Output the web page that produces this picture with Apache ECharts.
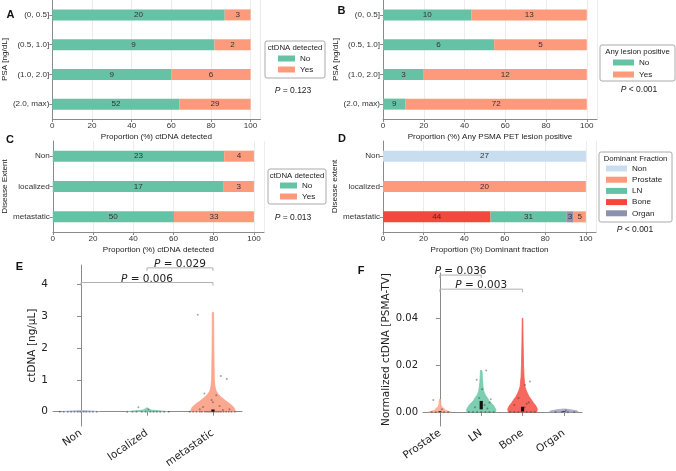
<!DOCTYPE html>
<html><head><meta charset="utf-8">
<script src="https://cdn.jsdelivr.net/npm/echarts@6/dist/echarts.min.js"></script>
<style>html,body{margin:0;padding:0;background:#fff}#c{width:676px;height:471px}</style>
</head><body><div id="c"></div>
<script>
// ---------- data ----------
const psaCats = ['(0, 0.5]', '(0.5, 1.0]', '(1.0, 2.0]', '(2.0, max)'];
const extentCats = ['Non', 'localized', 'metastatic'];
const aNo = [20, 9, 9, 52];
const aYes = [3, 2, 6, 29];
const bNo = [10, 6, 3, 9];
const bYes = [13, 5, 12, 72];
const cNo = [23, 17, 50];
const cYes = [4, 3, 33];
const dNon = [27, 0, 0];
const dBone = [0, 0, 44];
const dLN = [0, 0, 31];
const dOrgan = [0, 0, 3];
const dProstate = [0, 20, 5];

const eCats = ['Non', 'localized', 'metastatic'];
const eTicks = [0, 1, 2, 3, 4];
// violin profiles: [value, relative half width]
const eProfNon = [[0, 1], [0.02, 0.6], [0.04, 0]];
const eProfLoc = [[0, 1], [0.02, 0.7], [0.05, 0.2], [0.1, 0.05], [0.13, 0]];
const eProfMet = [[0, 0.97], [0.05, 1], [0.15, 0.93], [0.25, 0.76], [0.35, 0.56], [0.45, 0.38], [0.55, 0.24], [0.65, 0.14], [0.8, 0.09], [1.0, 0.06], [1.5, 0.05], [2.0, 0.04], [2.5, 0.035], [3.12, 0.03]];
const eBoxes = [[0, 0, 0], [0, 0, 0], [0, 0.07, 0.01]];
const ePtsNon = [[-0.32, 0], [-0.26, 0], [-0.2, 0], [-0.15, 0], [-0.1, 0], [-0.05, 0], [-0.01, 0], [0.04, 0], [0.08, 0], [0.13, 0], [0.18, 0], [0.24, 0]];
const ePtsLoc = [[-0.3, 0], [-0.22, 0], [-0.16, 0], [-0.13, 0.14], [-0.08, 0], [-0.02, 0], [0.02, 0.07], [0.05, 0], [0.1, 0], [0.15, 0], [0.2, 0], [0.26, 0], [0.33, 0]];
const ePtsMet = [[-0.23, 3.05], [0.12, 1.12], [0.21, 1.03], [-0.13, 0.57], [0.05, 0.52], [-0.02, 0.37], [0.0, 0.3], [-0.15, 0.15], [0.1, 0.18], [-0.2, 0.08], [0.25, 0.08], [0.15, 0.05],
  [-0.35, 0], [-0.3, 0], [-0.25, 0], [-0.2, 0], [-0.17, 0], [-0.12, 0], [-0.09, 0], [-0.06, 0], [-0.03, 0], [0, 0], [0.03, 0], [0.06, 0], [0.09, 0], [0.12, 0], [0.16, 0], [0.2, 0], [0.24, 0], [0.28, 0], [0.33, 0]];
const eBrackets = [[0, 2, 4.06, '0.006'], [1, 2, 4.52, '0.029']];

const fCats = ['Prostate', 'LN', 'Bone', 'Organ'];
const fTicks = [0, 0.02, 0.04];
const fProfProstate = [[0, 1], [0.0004, 0.7], [0.0008, 0.45], [0.0012, 0.4], [0.0016, 0.35], [0.002, 0.2], [0.003, 0.1], [0.004, 0.08], [0.0054, 0.05]];
const fProfLN = [[0, 0.95], [0.0008, 1], [0.002, 0.9], [0.003, 0.8], [0.004, 0.65], [0.005, 0.5], [0.006, 0.42], [0.007, 0.3], [0.008, 0.22], [0.009, 0.17], [0.011, 0.12], [0.014, 0.08], [0.0177, 0.05]];
const fProfBone = [[0, 0.95], [0.001, 1], [0.002, 0.95], [0.003, 0.85], [0.004, 0.72], [0.005, 0.62], [0.0065, 0.45], [0.008, 0.33], [0.0095, 0.23], [0.011, 0.16], [0.015, 0.1], [0.02, 0.07], [0.03, 0.04], [0.04, 0.02]];
const fProfOrgan = [[0, 1], [0.0005, 0.9], [0.001, 0.4], [0.0013, 0]];
const fBoxes = [[0, 0.0003, 0], [0.0011, 0.0047, 0.0025], [0.0002, 0.0022, 0.0008], [0, 0.0003, 0]];
const fPtsProstate = [[-0.16, 0.0051], [-0.2, 0], [-0.1, 0], [0, 0], [0.05, 0.0012], [0.1, 0], [0.2, 0]];
const fPtsLN = [[-0.11, 0.0137], [0.12, 0.0177], [0.02, 0.0097], [0.23, 0.0054], [0.2, 0.004], [-0.05, 0.006], [0.08, 0.003], [-0.15, 0.002], [0.15, 0.0015], [-0.3, 0], [-0.2, 0], [-0.1, 0], [0, 0], [0.1, 0], [0.2, 0], [0.3, 0]];
const fPtsBone = [[0.18, 0.013], [0.06, 0.0115], [-0.1, 0.006], [0.15, 0.004], [-0.2, 0.003], [0.05, 0.002], [0.1, 0.0035], [-0.3, 0], [-0.2, 0], [-0.1, 0], [0, 0], [0.1, 0], [0.2, 0], [0.3, 0]];
const fPtsOrgan = [[-0.2, 0], [-0.05, 0], [0.05, 0.0007], [0.1, 0], [0.25, 0]];
const fBrackets = [[0, 1, 0.0584, '0.036'], [0, 2, 0.0524, '0.003']];

// ---------- style ----------
const TEAL = '#66c2a5', SALMON = '#fc9a7b', BONE = '#f4473e', ORGAN = '#8c91ae', NONC = '#c9ddf0';
const AX = '#8a8a8a';
const SANS = 'Liberation Sans, Arial, sans-serif';
const DJ = 'DejaVu Sans, sans-serif';
const FS = 8.1;

const chart = echarts.init(document.getElementById('c'), null, { renderer: 'canvas' });

function pct(arrs) {
  return arrs.map(a => a.map((v, i) => {
    let t = 0; arrs.forEach(b => t += b[i]);
    return { value: v / t * 100, count: v };
  }));
}
const lab = { show: true, position: 'inside', fontSize: FS, color: '#333', fontFamily: SANS, formatter: p => p.data.count ? p.data.count : '' };

function barX(g, name) {
  return {
    gridIndex: g, type: 'value', min: 0, max: 105, interval: 20,
    axisLine: { show: true, lineStyle: { color: AX } },
    axisTick: { show: true, length: 3, lineStyle: { color: AX } },
    axisLabel: { fontSize: FS, color: '#333', margin: 3, fontFamily: SANS, showMaxLabel: false, formatter: v => v > 100 ? '' : v },
    splitLine: { show: true, lineStyle: { color: '#ececec' } },
    name: name, nameLocation: 'middle', nameGap: 14, nameTextStyle: { fontSize: FS, color: '#222', fontFamily: SANS }
  };
}
function barY(g, cats, name, gap) {
  return {
    gridIndex: g, type: 'category', data: cats, inverse: true,
    axisLine: { show: true, lineStyle: { color: AX } },
    axisTick: { show: true, length: 3, alignWithLabel: true, lineStyle: { color: AX } },
    axisLabel: { fontSize: FS, color: '#333', margin: 3, fontFamily: SANS },
    splitLine: { show: false },
    name: name, nameLocation: 'middle', nameGap: gap, nameRotate: 90, nameTextStyle: { fontSize: FS, color: '#222', fontFamily: SANS }
  };
}
function barS(name, g, data, color) {
  return { type: 'bar', name: name, xAxisIndex: g, yAxisIndex: g, stack: 's' + g, barWidth: 11, data: data, itemStyle: { color: color }, label: lab, emphasis: { disabled: true } };
}

const A = pct([aNo, aYes]), B = pct([bNo, bYes]), C = pct([cNo, cYes]);
const D = pct([dNon, dBone, dLN, dOrgan, dProstate]);

function violinRender(profiles, halfW, colors, boxes) {
  return function (params, api) {
    const i = api.value(0);
    const prof = profiles[i], H = halfW[i];
    const left = prof.map(p => api.coord([i - p[1] * H, p[0]]));
    const right = prof.slice().reverse().map(p => api.coord([i + p[1] * H, p[0]]));
    const children = [{ type: 'polygon', shape: { points: left.concat(right) }, style: { fill: colors[i], stroke: colors[i], lineWidth: 0.8, opacity: 0.9 } }];
    const b = boxes[i];
    const c1 = api.coord([i, b[0]]), c3 = api.coord([i, b[1]]);
    if (c1[1] - c3[1] > 0.5) {
      children.push({ type: 'rect', shape: { x: c1[0] - 1.6, y: c3[1], width: 3.2, height: c1[1] - c3[1] }, style: { fill: '#111' } });
    }
    return { type: 'group', children: children };
  };
}
function bracketRender(list) {
  return function (params, api) {
    const b = list[params.dataIndex];
    const p1 = api.coord([b[0], b[2]]), p2 = api.coord([b[1], b[2]]);
    return {
      type: 'group', children: [
        { type: 'polyline', shape: { points: [[p1[0], p1[1] + 3], p1, p2, [p2[0], p2[1] + 3]] }, style: { stroke: '#b0b0b0', lineWidth: 1, fill: null } },
        { type: 'text', x: (p1[0] + p2[0]) / 2, y: p1[1] + 2, style: { text: '{i|P} = ' + b[3], rich: { i: { fontStyle: 'italic', fontSize: 10.5, fontFamily: DJ, fill: '#222' } }, fontSize: 10.5, fontFamily: DJ, fill: '#222', align: 'center', verticalAlign: 'bottom' } }
      ]
    };
  };
}
function pts(list, idx) { return list.map(p => [idx + p[0], p[1]]); }

const ptStyle = { color: 'rgba(50,50,50,0.55)' };
function pText(x, y, t) {
  return { type: 'text', x: x, y: y, style: { text: t, rich: { i: { fontStyle: 'italic', fontSize: 8.5, fontFamily: SANS, fill: '#222' } }, fontSize: 8.5, fontFamily: SANS, fill: '#222', align: 'center', verticalAlign: 'middle' } };
}
function letter(x, y, t) {
  return { type: 'text', x: x, y: y, style: { text: t, fontSize: 11, fontWeight: 'bold', fontFamily: SANS, fill: '#111', align: 'center', verticalAlign: 'middle' } };
}
function legBox(x, y, w, h, title) {
  return [
    { type: 'rect', shape: { x: x, y: y, width: w, height: h, r: 2 }, style: { fill: '#fff', stroke: '#aaa', lineWidth: 1 }, z: -1 },
    { type: 'text', x: x + w / 2, y: y + 6.5, style: { text: title, fontSize: 7.8, fontFamily: SANS, fill: '#222', align: 'center', verticalAlign: 'middle' } }
  ];
}
const legText = { fontSize: FS, lineHeight: 9, color: '#222', fontFamily: SANS };

const option = {
  animation: false,
  backgroundColor: '#fff',
  grid: [
    { left: 50, top: 0, width: 210.5, height: 119 },
    { left: 383, top: 0, width: 214, height: 119 },
    { left: 50, top: 141, width: 214, height: 91 },
    { left: 383, top: 141, width: 213, height: 91 },
    { left: 53, top: 265, width: 189, height: 161 },
    { left: 423, top: 273, width: 159, height: 153 }
  ],
  xAxis: [
    barX(0, 'Proportion (%) ctDNA detected'),
    barX(1, 'Proportion (%) Any PSMA PET lesion positive'),
    barX(2, 'Proportion (%) ctDNA detected'),
    barX(3, 'Proportion (%) Dominant fraction'),
    {
      gridIndex: 4, type: 'value', min: -0.424, max: 2.44,
      axisLine: { show: true, lineStyle: { color: AX } },
      axisTick: { show: true, length: 4, customValues: [0, 1, 2], lineStyle: { color: AX } },
      axisLabel: { customValues: [0, 1, 2], formatter: v => eCats[Math.round(v)], rotate: 35, fontSize: 10.5, color: '#222', fontFamily: DJ, margin: 6 },
      splitLine: { show: false }
    },
    {
      gridIndex: 5, type: 'value', min: -0.41, max: 3.44,
      axisLine: { show: true, lineStyle: { color: AX } },
      axisTick: { show: true, length: 4, customValues: [0, 1, 2, 3], lineStyle: { color: AX } },
      axisLabel: { customValues: [0, 1, 2, 3], formatter: v => fCats[Math.round(v)], rotate: 35, fontSize: 10.5, color: '#222', fontFamily: DJ, margin: 6 },
      splitLine: { show: false }
    }
  ],
  yAxis: [
    barY(0, psaCats, 'PSA [ng/dL]', 38),
    barY(1, psaCats, 'PSA [ng/dL]', 37),
    barY(2, extentCats, 'Disease Extent', 38),
    barY(3, extentCats, 'Disease extent', 39),
    {
      gridIndex: 4, type: 'value', min: -0.45, max: 4.61,
      axisLine: { show: true, lineStyle: { color: AX } },
      axisTick: { show: true, length: 4, customValues: eTicks, lineStyle: { color: AX } },
      axisLabel: { customValues: eTicks, fontSize: 10.5, color: '#222', fontFamily: DJ, margin: 5 },
      splitLine: { show: false },
      name: 'ctDNA [ng/μL]', nameLocation: 'middle', nameGap: 15, nameRotate: 90, nameTextStyle: { fontSize: 10.5, color: '#222', fontFamily: DJ }
    },
    {
      gridIndex: 5, type: 'value', min: -0.006, max: 0.0593,
      axisLine: { show: true, lineStyle: { color: AX } },
      axisTick: { show: true, length: 4, customValues: fTicks, lineStyle: { color: AX } },
      axisLabel: { customValues: fTicks, formatter: v => v.toFixed(2), fontSize: 10, color: '#222', fontFamily: DJ, margin: 5 },
      splitLine: { show: false },
      name: 'Normalized ctDNA [PSMA-TV]', nameLocation: 'middle', nameGap: 29, nameRotate: 90, nameTextStyle: { fontSize: 10.5, color: '#222', fontFamily: DJ }
    }
  ],
  legend: [
    { data: ['No', 'Yes'], left: 278, top: 54, orient: 'vertical', itemWidth: 17, itemHeight: 6, itemGap: 2, icon: 'rect', selectedMode: false, padding: 0, textStyle: legText },
    { data: ['No', 'Yes'], left: 613, top: 58, orient: 'vertical', itemWidth: 21, itemHeight: 6, itemGap: 3, icon: 'rect', selectedMode: false, padding: 0, textStyle: legText },
    { data: ['No', 'Yes'], left: 280, top: 181, orient: 'vertical', itemWidth: 17, itemHeight: 6, itemGap: 2, icon: 'rect', selectedMode: false, padding: 0, textStyle: legText },
    { data: ['Non', 'Prostate', 'LN', 'Bone', 'Organ'], left: 606, top: 164, orient: 'vertical', itemWidth: 21, itemHeight: 6, itemGap: 2.2, icon: 'rect', selectedMode: false, padding: 0, textStyle: legText }
  ],
  graphic: [].concat(
    legBox(265, 41, 60, 37, 'ctDNA detected'),
    legBox(600, 45, 75, 36, 'Any lesion positive'),
    legBox(268, 169, 58, 35, 'ctDNA detected'),
    legBox(599, 152, 73, 70, 'Dominant Fraction'),
    [
      pText(293, 91, '{i|P} = 0.123'),
      pText(639, 90, '{i|P} < 0.001'),
      pText(293, 218, '{i|P} = 0.013'),
      pText(635, 230, '{i|P} < 0.001'),
      letter(10.5, 15, 'A'), letter(341.5, 11, 'B'), letter(10, 140, 'C'),
      letter(342, 139, 'D'), letter(19.5, 267, 'E'), letter(361, 271, 'F')
    ]
  ),
  series: [
    barS('No', 0, A[0], TEAL), barS('Yes', 0, A[1], SALMON),
    barS('No', 1, B[0], TEAL), barS('Yes', 1, B[1], SALMON),
    barS('No', 2, C[0], TEAL), barS('Yes', 2, C[1], SALMON),
    barS('Non', 3, D[0], NONC), barS('Bone', 3, D[1], BONE), barS('LN', 3, D[2], TEAL), barS('Organ', 3, D[3], ORGAN), barS('Prostate', 3, D[4], SALMON),
    {
      type: 'custom', name: 'violinE', xAxisIndex: 4, yAxisIndex: 4, z: 2,
      data: [[0, 0], [1, 0], [2, 0]],
      renderItem: violinRender([eProfNon, eProfLoc, eProfMet], [0.28, 0.32, 0.335], ['#aebfd3', '#7fcbb0', '#fb9f84'], eBoxes)
    },
    { type: 'scatter', name: 'ptsE', xAxisIndex: 4, yAxisIndex: 4, z: 3, symbolSize: 2, itemStyle: ptStyle, data: pts(ePtsNon, 0).concat(pts(ePtsLoc, 1), pts(ePtsMet, 2)) },
    { type: 'custom', name: 'brE', xAxisIndex: 4, yAxisIndex: 4, z: 4, data: eBrackets.map(b => [b[0], b[2]]), renderItem: bracketRender(eBrackets) },
    {
      type: 'custom', name: 'violinF', xAxisIndex: 5, yAxisIndex: 5, z: 2,
      data: [[0, 0], [1, 0], [2, 0], [3, 0]],
      renderItem: violinRender([fProfProstate, fProfLN, fProfBone, fProfOrgan], [0.27, 0.36, 0.36, 0.35], ['#fcab90', '#6fcaa8', '#f5574b', '#a3a7c4'], fBoxes)
    },
    { type: 'scatter', name: 'ptsF', xAxisIndex: 5, yAxisIndex: 5, z: 3, symbolSize: 2, itemStyle: ptStyle, data: pts(fPtsProstate, 0).concat(pts(fPtsLN, 1), pts(fPtsBone, 2), pts(fPtsOrgan, 3)) },
    { type: 'custom', name: 'brF', xAxisIndex: 5, yAxisIndex: 5, z: 4, data: fBrackets.map(b => [b[0], b[2]]), renderItem: bracketRender(fBrackets) }
  ]
};
chart.setOption(option);
</script>
</body></html>
